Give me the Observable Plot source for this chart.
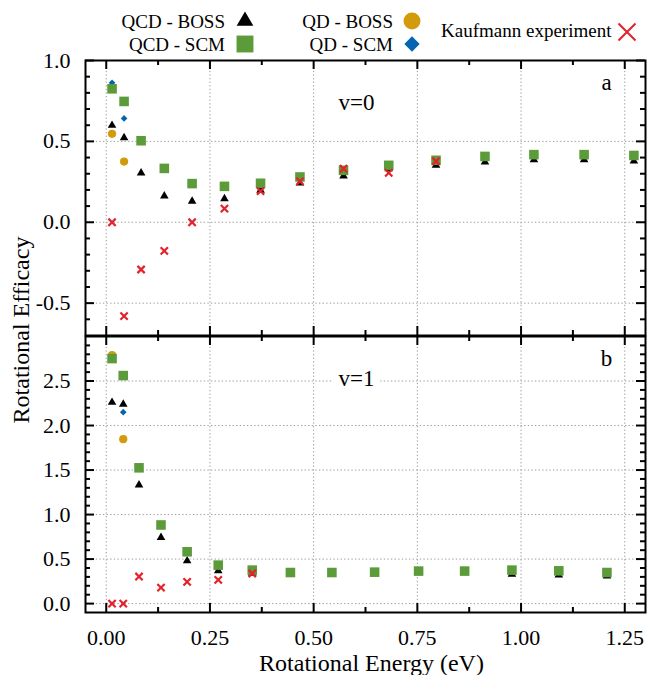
<!DOCTYPE html>
<html><head><meta charset="utf-8">
<script src="https://cdn.jsdelivr.net/npm/d3@7"></script>
<script src="https://cdn.jsdelivr.net/npm/@observablehq/plot@0.6"></script>
<style>
body{margin:0;background:#fff;}
#wrap{position:relative;width:647px;height:675px;font-family:"Liberation Serif","Times New Roman",serif;overflow:hidden;}
#wrap svg{position:absolute;left:0;}
</style></head><body><div id="wrap"></div>
<script>
// ---- data ----
// panel a : v = 0
const energyA  = [0.014,0.043,0.084,0.140,0.207,0.285,0.372,0.467,0.572,0.681,0.795,0.913,1.031,1.152,1.272];
const qcdBossA = [0.599,0.523,0.305,0.163,0.130,0.146,0.198,0.243,0.286,0.330,0.352,0.372,0.387,0.387,0.378];
const qcdScmA  = [0.825,0.747,0.504,0.333,0.239,0.222,0.241,0.280,0.321,0.352,0.383,0.407,0.418,0.418,0.413];
const qdBossA  = [0.547,0.375];
const qdScmA   = [0.862,0.642];
const kaufA    = [0.0,-0.58,-0.292,-0.177,0.0,0.084,0.193,0.253,0.331,0.305,0.377];
// panel b : v = 1
const energyB  = [0.014,0.041,0.079,0.132,0.195,0.270,0.352,0.444,0.544,0.647,0.753,0.864,0.978,1.091,1.207];
const qcdBossB = [2.26,2.24,1.333,0.743,0.48,0.368,0.34,0.33,0.34,0.34,0.35,0.35,0.33,0.32,0.31];
const qcdScmB  = [2.752,2.561,1.525,0.883,0.582,0.432,0.376,0.349,0.349,0.353,0.365,0.365,0.376,0.368,0.349];
const qdBossB  = [2.79,1.847];
const qdScmB   = [2.74,2.15];
const kaufB    = [0.0,0.0,0.304,0.18,0.244,0.267,0.338];
// ticks
const xMajor  = [0,0.25,0.5,0.75,1.0,1.25];
const xMinor  = [0.125,0.375,0.625,0.875,1.125];
const yMajorA = [-0.5,0.0,0.5,1.0];
const yMinorA = [-0.6,-0.4,-0.3,-0.2,-0.1,0.1,0.2,0.3,0.4,0.6,0.7,0.8,0.9];
const yMajorB = [0.0,0.5,1.0,1.5,2.0,2.5];
const yMinorB = [0.1,0.2,0.3,0.4,0.6,0.7,0.8,0.9,1.1,1.2,1.3,1.4,1.6,1.7,1.8,1.9,2.1,2.2,2.3,2.4,2.6,2.7,2.8,2.9];
// labels
const seriesNames = ["QCD - BOSS","QCD - SCM","QD - BOSS","QD - SCM","Kaufmann experiment"];
const panelLetters = ["a","b"];
const vibLabels = ["v=0","v=1"];
const xTitle = "Rotational Energy (eV)";
const yTitle = "Rotational Efficacy";

const C = {boss:"#000000", scm:"#5b9b3a", qdBoss:"#d29b0c", qdScm:"#0565b0", kauf:"#e3222b"};
const FONT = '"Liberation Serif","Times New Roman",serif';

function panel(o){
  const W=647, ML=85, MR=2;
  const innerW = W-ML-MR, innerH = o.height-o.marginTop-o.marginBottom;
  const gridStyle = {stroke:"#999", strokeWidth:1, strokeDasharray:"1.3,2.3"};
  const byIdx = (E)=>({x:(d,i)=>E[i], y:d=>d});
  const marks = [
    Plot.ruleX(xMajor, gridStyle),
    Plot.ruleY(o.yMajor, gridStyle),
    Plot.text([o.vib], {frameAnchor:"top", lineAnchor:"middle", textAnchor:"middle", dx:-9, dy:42, fontSize:23, fill:"black", stroke:"white", strokeWidth:16, paintOrder:"stroke"}),
    Plot.text([o.letter], {frameAnchor:"top-right", lineAnchor:"middle", textAnchor:"middle", dx:-39, dy:22, fontSize:23, fill:"black"}),
    // inward ticks
    Plot.tickY(o.yMajor, {y:d=>d, insetRight:innerW-9, stroke:"black", strokeWidth:2}),
    Plot.tickY(o.yMajor, {y:d=>d, insetLeft:innerW-9, stroke:"black", strokeWidth:2}),
    Plot.tickY(o.yMinor, {y:d=>d, insetRight:innerW-5, stroke:"black", strokeWidth:2}),
    Plot.tickY(o.yMinor, {y:d=>d, insetLeft:innerW-5, stroke:"black", strokeWidth:2}),
    Plot.tickX(xMajor, {x:d=>d, insetBottom:innerH-9, stroke:"black", strokeWidth:2}),
    Plot.tickX(xMajor, {x:d=>d, insetTop:innerH-9, stroke:"black", strokeWidth:2}),
    Plot.tickX(xMinor, {x:d=>d, insetBottom:innerH-5, stroke:"black", strokeWidth:2}),
    Plot.tickX(xMinor, {x:d=>d, insetTop:innerH-5, stroke:"black", strokeWidth:2}),
    // data
    Plot.dot(o.boss, {...byIdx(o.E), symbol:"triangle", r:3.2, fill:C.boss, stroke:"none"}),
    Plot.dot(o.qdBoss, {...byIdx(o.E), symbol:"circle", r:4.1, fill:C.qdBoss, stroke:"none"}),
    Plot.dot(o.qdScm, {...byIdx(o.E), symbol:"diamond2", r:3, fill:C.qdScm, stroke:"none"}),
    Plot.dot(o.scm, {...byIdx(o.E), symbol:"square", r:5.4, fill:C.scm, stroke:"none"}),
    Plot.dot(o.kauf, {...byIdx(o.E), symbol:"times", r:3.4, stroke:C.kauf, strokeWidth:2.2, fill:"none"}),
    Plot.axisY(o.yMajor, {tickSize:0, tickPadding:15, tickFormat:d=>d.toFixed(1), label:null, fontSize:22, fill:"black"}),
    Plot.frame({stroke:"black", strokeWidth:2})
  ];
  if (o.showX) {
    marks.push(Plot.axisX(xMajor, {tickSize:0, tickPadding:17, tickFormat:d=>d.toFixed(2), label:null, fontSize:22, fill:"black"}));
    marks.push(Plot.text([xTitle], {frameAnchor:"bottom", lineAnchor:"middle", textAnchor:"middle", dx:6, dy:51, fontSize:24, fill:"black"}));
  }
  const svg = Plot.plot({
    width:W, height:o.height, marginLeft:ML, marginRight:MR, marginTop:o.marginTop, marginBottom:o.marginBottom,
    x:{domain:[-0.05,1.30], axis: o.showX ? undefined : null},
    y:{domain:o.yDomain},
    style:{fontFamily:FONT, fontSize:"22px", color:"black", background:"transparent", overflow:"visible"},
    marks
  });
  svg.style.top = o.top + "px";
  return svg;
}

const wrap = document.getElementById("wrap");
wrap.appendChild(panel({top:50, height:285, marginTop:10, marginBottom:0, yDomain:[-0.7,1.0],
  yMajor:yMajorA, yMinor:yMinorA, E:energyA, boss:qcdBossA, scm:qcdScmA, qdBoss:qdBossA, qdScm:qdScmA, kauf:kaufA,
  vib:vibLabels[0], letter:panelLetters[0], showX:false}));
wrap.appendChild(panel({top:335, height:340, marginTop:1, marginBottom:63, yDomain:[-0.1,3.0],
  yMajor:yMajorB, yMinor:yMinorB, E:energyB, boss:qcdBossB, scm:qcdScmB, qdBoss:qdBossB, qdScm:qdScmB, kauf:kaufB,
  vib:vibLabels[1], letter:panelLetters[1], showX:true}));

// overlay: legend + y title
const ov = d3.select(wrap).append("svg").attr("width",647).attr("height",675)
  .style("top","0px").style("font-family",FONT).style("pointer-events","none");
ov.append("text").attr("transform","translate(28.5,330) rotate(-90)").attr("text-anchor","middle")
  .attr("font-size",24).attr("fill","black").text(yTitle);
const leg = [
  {label:seriesNames[0], tx:225, ty:28, sx:245, sy:21, anchor:"end", sym:d3.symbolTriangle, size:120, fill:C.boss},
  {label:seriesNames[1], tx:225, ty:51, sx:245, sy:44, anchor:"end", sym:d3.symbolSquare, size:285, fill:C.scm},
  {label:seriesNames[2], tx:393, ty:28, sx:412, sy:21, anchor:"end", sym:d3.symbolCircle, size:225, fill:C.qdBoss},
  {label:seriesNames[3], tx:393, ty:51, sx:412, sy:44, anchor:"end", sym:d3.symbolDiamond2, size:150, fill:C.qdScm},
  {label:seriesNames[4], tx:441, ty:37, sx:627, sy:32, anchor:"start", sym:d3.symbolTimes, size:190, stroke:C.kauf}
];
for (const l of leg) {
  ov.append("text").attr("x",l.tx).attr("y",l.ty).attr("text-anchor",l.anchor).attr("font-size",19).attr("fill","black").text(l.label);
  ov.append("path").attr("transform",`translate(${l.sx},${l.sy})`).attr("d",d3.symbol(l.sym,l.size)())
    .attr("fill",l.fill||"none").attr("stroke",l.stroke||"none").attr("stroke-width",l.stroke?2:0);
}
</script></body></html>
